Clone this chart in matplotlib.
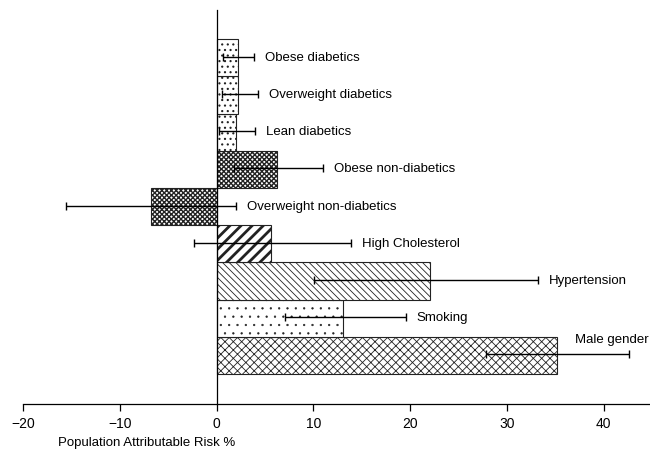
import matplotlib.pyplot as plt
import numpy as np

plt.rcParams['font.family'] = ['Liberation Sans', 'DejaVu Sans']

# data, bottom to top
categories = ['Male gender', 'Smoking', 'Hypertension', 'High Cholesterol',
              'Overweight non-diabetics', 'Obese non-diabetics',
              'Lean diabetics', 'Overweight diabetics', 'Obese diabetics']
par = [35.2, 13.1, 22.1, 5.6, -6.75, 6.2, 2.0, 2.2, 2.24]
ci_low = [27.8, 7.1, 10.1, -2.3, -15.6, 1.8, 0.3, 0.6, 0.7]
ci_high = [42.6, 19.6, 33.2, 13.9, 2.0, 11.0, 4.0, 4.3, 3.9]
xticks = [-20, -10, 0, 10, 20, 30, 40]

hatches = ['xxxx', '..', '\\\\\\\\\\', '///', 'xxxxxxx', 'xxxxxxx', '...', '...', '...']
hatch_lw = [0.6, 0.4, 0.6, 2.0, 1.0, 1.0, 0.8, 0.8, 0.8]

fig = plt.figure(figsize=(6.5, 4.49), dpi=100)
ax = fig.add_axes([23/650, 45/449, 627/650, 394/449])

y = np.arange(len(categories))
par = np.array(par)
lo = np.array(ci_low)
hi = np.array(ci_high)

bars = ax.barh(y, par, height=1.0, color='white', edgecolor='#222222', linewidth=0.8)
for b, h, lw in zip(bars, hatches, hatch_lw):
    b.set_hatch(h)
    try:
        b.set_hatch_linewidth(lw)
    except AttributeError:
        pass

ax.errorbar(par, y + 0.03, xerr=[par - lo, hi - par], fmt='none', ecolor='black',
            elinewidth=1.0, capsize=3, capthick=1.0)

for i, name in enumerate(categories):
    if name == 'Male gender':
        ax.text(37.1, y[i] + 0.43, name, fontsize=9.5, va='center', ha='left')
    else:
        ax.text(hi[i] + 1.1, y[i], name, fontsize=9.5, va='center', ha='left')

ax.set_xlim(-20, 44.8)
ax.set_ylim(-1.3, 9.28)
ax.set_xticks(xticks)
ax.set_xticklabels([str(t).replace('-', '\u2212') for t in xticks], fontsize=10)
ax.set_yticks([])
ax.spines['top'].set_visible(False)
ax.spines['right'].set_visible(False)
ax.spines['left'].set_position(('data', 0))
ax.spines['left'].set_linewidth(0.9)
ax.spines['bottom'].set_linewidth(0.9)
ax.tick_params(axis='x', direction='out', length=5, width=0.9, pad=4)

fig.text(58/650, 6/449, 'Population Attributable Risk %', fontsize=9.5, ha='left', va='center')

fig.savefig('out.png', dpi=100)
